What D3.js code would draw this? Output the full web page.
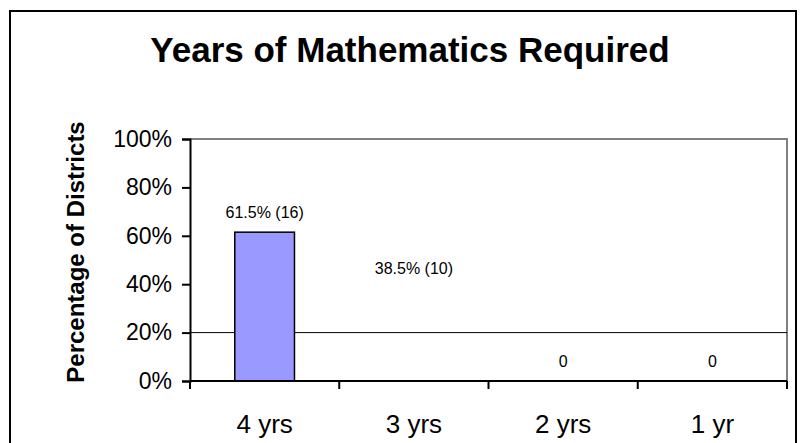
<!DOCTYPE html>
<html>
<head>
<meta charset="utf-8">
<script src="https://cdn.jsdelivr.net/npm/d3@7"></script>
<style>
  body { margin: 0; background: #fff; }
  svg text { font-family: Arial, "Liberation Sans", sans-serif; }
</style>
</head>
<body>
<div id="chart"></div>
<script>
'use strict';

const categories = ['4 yrs', '3 yrs', '2 yrs', '1 yr'];
const percents = [61.5, 38.5, 0, 0];
const counts = [16, 10, 0, 0];
const barFills = ['#9999ff', 'none', 'none', 'none'];
const yTicks = [0, 20, 40, 60, 80, 100];

const width = 801, height = 443;
const margin = { top: 139, right: 14, bottom: 62, left: 190 };
const innerW = width - margin.left - margin.right;
const innerH = height - margin.top - margin.bottom;

const data = categories.map((c, i) => ({ cat: c, pct: percents[i], n: counts[i], fill: barFills[i] }));

const svg = d3.select('#chart').append('svg')
    .attr('width', width)
    .attr('height', height);

// outer frame
svg.append('rect')
    .attr('x', 10).attr('y', 11)
    .attr('width', 786).attr('height', 445)
    .attr('fill', 'none')
    .attr('stroke', '#000')
    .attr('stroke-width', 2);

svg.append('text')
    .attr('x', 410).attr('y', 62)
    .attr('text-anchor', 'middle')
    .style('font-size', '35px')
    .style('font-weight', 'bold')
    .text('Years of Mathematics Required');

svg.append('text')
    .attr('transform', 'translate(84,' + (margin.top + innerH / 2 - 8) + ') rotate(-90)')
    .attr('text-anchor', 'middle')
    .style('font-size', '24px')
    .style('font-weight', 'bold')
    .text('Percentage of Districts');

const g = svg.append('g')
    .attr('transform', 'translate(' + margin.left + ',' + margin.top + ')');

const xBand = d3.scaleBand().domain(categories).range([0, innerW]);
const y = d3.scaleLinear().domain([0, 100]).range([innerH, 0]);

// plot area border (top and right)
g.append('path')
    .attr('d', 'M0,0H' + innerW + 'V' + innerH)
    .attr('fill', 'none')
    .attr('stroke', '#808080')
    .attr('stroke-width', 2);

// single gridline at 20%
g.append('line')
    .attr('x1', 0).attr('x2', innerW)
    .attr('y1', y(20)).attr('y2', y(20))
    .attr('stroke', '#000')
    .attr('stroke-width', 1);

g.selectAll('.bar')
    .data(data)
    .enter().append('rect')
    .attr('class', 'bar')
    .attr('x', d => xBand(d.cat) + xBand.bandwidth() * 0.3)
    .attr('width', xBand.bandwidth() * 0.4)
    .attr('y', d => y(d.pct))
    .attr('height', d => innerH - y(d.pct))
    .attr('fill', d => d.fill)
    .attr('stroke', d => d.fill === 'none' ? 'none' : '#000')
    .attr('stroke-width', 1.5);

g.selectAll('.val')
    .data(data)
    .enter().append('text')
    .attr('class', 'val')
    .attr('x', d => xBand(d.cat) + xBand.bandwidth() / 2)
    .attr('y', d => y(d.pct) - 14)
    .attr('text-anchor', 'middle')
    .style('font-size', '16px')
    .text(d => d.n === 0 ? '0' : d.pct + '% (' + d.n + ')');

const yAxis = g.append('g')
    .call(d3.axisLeft(y).tickValues(yTicks).tickFormat(d => d + '%').tickSize(8).tickPadding(10));
yAxis.select('.domain').attr('stroke', '#000').attr('stroke-width', 2);
yAxis.selectAll('.tick line').attr('stroke', '#000').attr('stroke-width', 2);
yAxis.selectAll('.tick text').style('font-size', '23px').attr('fill', '#000');

// x axis with ticks on band boundaries
const xAxis = g.append('g').attr('transform', 'translate(0,' + innerH + ')');
xAxis.append('line')
    .attr('x1', 0).attr('x2', innerW)
    .attr('stroke', '#000').attr('stroke-width', 2);
xAxis.selectAll('.xt')
    .data(categories.concat(['end']))
    .enter().append('line')
    .attr('x1', (d, i) => i < categories.length ? xBand(d) : innerW)
    .attr('x2', (d, i) => i < categories.length ? xBand(d) : innerW)
    .attr('y1', 0).attr('y2', 8)
    .attr('stroke', '#000').attr('stroke-width', 2);
xAxis.selectAll('.xl')
    .data(categories)
    .enter().append('text')
    .attr('x', d => xBand(d) + xBand.bandwidth() / 2)
    .attr('y', 52)
    .attr('text-anchor', 'middle')
    .style('font-size', '26px')
    .text(d => d);
</script>
</body>
</html>
